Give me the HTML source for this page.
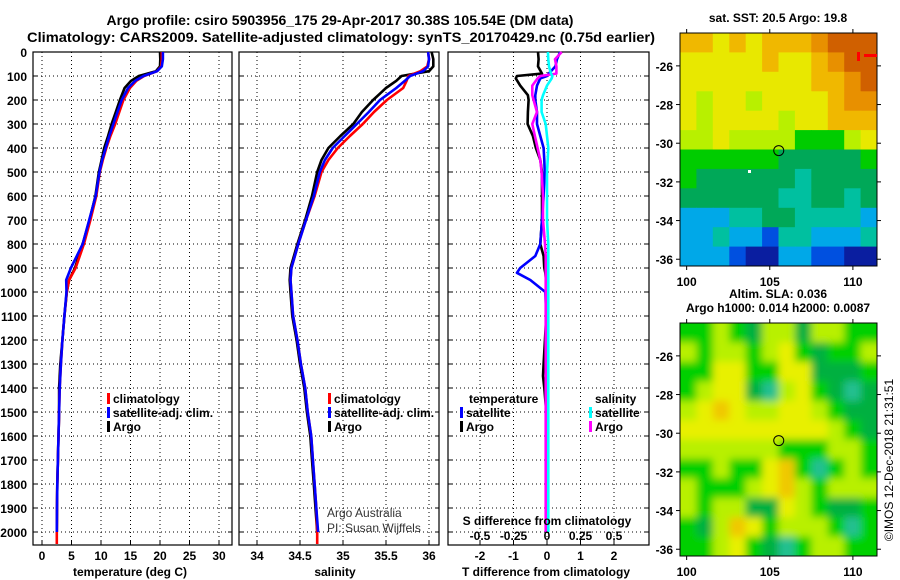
<!DOCTYPE html>
<html><head><meta charset="utf-8"><style>
html,body{margin:0;padding:0;background:#fff;}
svg{display:block;font-family:"Liberation Sans",Arial,sans-serif;}
.b{font-weight:bold;font-size:12px;fill:#000;}
.t{font-weight:bold;font-size:14px;fill:#000;}
.grid{stroke:#000;stroke-width:1;stroke-dasharray:1 3;}
</style></head><body>
<svg id="fig" width="900" height="580" viewBox="0 0 900 580">
<text class="t" x="340" y="25" text-anchor="middle">Argo profile: csiro 5903956_175 29-Apr-2017 30.38S 105.54E (DM data)</text>
<text class="t" x="341" y="42" text-anchor="middle" textLength="628" lengthAdjust="spacingAndGlyphs">Climatology: CARS2009. Satellite-adjusted climatology: synTS_20170429.nc (0.75d earlier)</text>
<g id="plots"></g>
<g id="maps"></g>
</svg>
<script>
const NS="http://www.w3.org/2000/svg";
// ---------- profile data ----------
const depths=[0,30,60,80,100,120,150,200,250,300,350,400,450,500,600,700,800,900,950,1000,1100,1200,1300,1400,1500,1600,1700,1800,1900,2000];
const tempClim=[20.3,20.3,20.2,19.5,17.3,16,14.9,13.8,13.1,12.4,11.6,10.9,10.3,9.8,9.2,8.2,7.1,5.7,4.6,4.2,3.8,3.45,3.2,3.0,2.9,2.8,2.7,2.6,2.55,2.5];
const tempSat=[20.5,20.5,20.3,19.5,17.2,15.8,14.6,13.5,12.8,12.1,11.4,10.8,10.2,9.75,9.1,8.0,6.9,4.9,4.1,4.15,3.8,3.45,3.2,3.0,2.9,2.8,2.7,2.6,2.55,2.5];
const tempArgo=[20.0,20.05,20.0,19.3,16.4,15.1,14.0,13.2,12.5,11.8,11.2,10.55,10.1,9.65,9.05,8.05,6.9,5.6,4.6,4.2,3.8,3.45,3.1,2.9,2.9,2.8,2.7,2.6,2.55,2.5];
const salClim=[35.99,36.0,35.98,35.9,35.76,35.74,35.7,35.51,35.36,35.23,35.08,34.94,34.83,34.75,34.67,34.57,34.48,34.4,34.39,34.4,34.42,34.47,34.51,34.56,34.59,34.63,34.65,34.67,34.69,34.7];
const salSat=[35.99,36.0,35.99,35.93,35.78,35.72,35.62,35.43,35.3,35.16,35.02,34.88,34.79,34.73,34.66,34.57,34.48,34.4,34.39,34.4,34.42,34.47,34.51,34.56,34.59,34.63,34.65,34.67,34.69,34.71];
const salArgo=[36.03,36.05,36.05,36.0,35.68,35.62,35.5,35.35,35.22,35.12,34.97,34.83,34.75,34.7,34.64,34.56,34.47,34.39,34.38,34.39,34.41,34.46,34.5,34.55,34.58,34.62,34.64,34.66,34.68,34.7];
const climBottomDepth=2050;
const diffDepths=[0,30,60,90,100,110,140,180,200,250,300,350,400,450,500,600,700,800,850,900,920,950,1000,1100,1300,1350,1400,1500,1700,2000];
const dTArgo=[-0.27,-0.25,-0.27,-0.15,-0.9,-0.93,-0.8,-0.57,-0.55,-0.57,-0.58,-0.42,-0.33,-0.2,-0.15,-0.15,-0.15,-0.2,-0.1,-0.08,-0.05,-0.03,-0.02,-0.02,-0.1,-0.12,-0.08,-0.02,-0.01,-0.01];
const dTSat=[0.39,0.3,0.25,0.05,0,-0.2,-0.3,-0.35,-0.35,-0.3,-0.3,-0.2,-0.1,-0.08,-0.07,-0.1,-0.15,-0.2,-0.35,-0.8,-0.9,-0.5,-0.05,-0.02,-0.02,-0.02,-0.02,-0.02,-0.02,-0.02];
const dSArgo=[0.11,0.06,0.07,0.07,-0.05,-0.07,-0.11,-0.11,-0.1,-0.075,-0.11,-0.09,-0.07,-0.05,-0.04,-0.03,-0.03,-0.015,-0.01,-0.01,-0.01,-0.01,-0.01,-0.01,-0.01,-0.01,-0.01,-0.01,-0.01,-0.01];
const dSSat=[0.007,0.01,0.015,0.03,0.04,0.035,0.0,-0.03,-0.04,-0.04,-0.01,0,0.01,0.005,0,0,0,0.01,0.01,0.01,0.01,0.01,0.01,0.01,0.01,0.01,0.01,0.01,0.01,0.01];
const depthTicks=[0,100,200,300,400,500,600,700,800,900,1000,1100,1200,1300,1400,1500,1600,1700,1800,1900,2000];
const tempTicks=[0,5,10,15,20,25,30];
const salTicks=[34,34.5,35,35.5,36];
const tdTicks=[-2,-1,0,1,2];
const sdTicks=[-0.5,-0.25,0,0.25,0.5];
// ---------- map data ----------
const sstGrid=[
[8,8,7,8,7,8,8,8,9,10,10,10],
[7,7,7,7,7,8,7,7,8,9,10,10],
[7,7,7,7,7,7,7,7,8,8,9,10],
[7,6,7,7,6,7,7,7,7,8,9,9],
[7,6,7,7,7,7,6,7,7,8,8,8],
[6,6,7,6,6,6,6,5,5,5,6,7],
[5,5,5,5,5,5,4,4,4,4,4,5],
[5,4,4,4,4,4,4,3,4,4,4,4],
[4,4,4,4,4,4,3,3,4,4,3,4],
[2,2,2,3,3,4,4,3,3,3,3,2],
[2,2,3,2,2,1,3,3,2,2,2,3],
[2,2,2,1,0,0,2,2,1,1,0,0]];
const slaGrid=[
[2,2,3,2,1,3,3,1,3,3,2,2],
[3,2,3,3,2,3,4,2,1,2,2,3],
[2,2,4,4,2,2,4,4,1,1,1,2],
[2,3,4,4,1,0,3,4,2,1,0,1],
[3,4,5,4,3,3,4,4,3,2,1,1],
[4,4,4,4,4,4,4,4,4,3,2,1],
[3,3,3,3,3,3,2,2,2,3,3,2],
[2,2,3,2,2,4,5,2,0,2,3,2],
[3,2,2,2,3,4,5,3,2,3,3,3],
[3,2,3,3,1,1,4,3,2,1,1,2],
[2,1,3,5,4,2,3,3,3,2,0,2],
[2,2,3,4,2,1,0,2,3,3,2,2]];
const sstColors=["#0a1ea0","#0050e0","#00a8e8","#00c0a0","#00a858","#00cc00","#b8f000","#e8e800","#f0b800","#e89000","#d06000"];
const slaColors=["#20c090","#00b040","#00d000","#b8f000","#e8f000","#f0c800"];
const latTicks=[-26,-28,-30,-32,-34,-36];
const lonTicks=[100,105,110];
const argoLon=105.54, argoLat=-30.38;

const plots=document.getElementById('plots');
const maps=document.getElementById('maps');
function mk(tag,attrs,parent){const e=document.createElementNS(NS,tag);for(const k in attrs)e.setAttribute(k,attrs[k]);(parent||plots).appendChild(e);return e;}
function txt(s,x,y,cls,anchor,parent){const e=mk('text',{x:x,y:y,class:cls,'text-anchor':anchor||'start'},parent);e.textContent=s;return e;}

const Y0=52, Y1=532, YB=545;
const yD=d=>Y0+(d/2000)*(Y1-Y0);

function panel(name,x0,x1,xScale,ticks,label,titleX){
  const g=mk('g',{});
  
  
  depthTicks.forEach(d=>{mk('line',{x1:x0,x2:x1,y1:yD(d),y2:yD(d),class:'grid'},g);
    mk('line',{x1:x0,x2:x0+4,y1:yD(d),y2:yD(d),stroke:'#000'},g);mk('line',{x1:x1-4,x2:x1,y1:yD(d),y2:yD(d),stroke:'#000'},g);});
  ticks.forEach(v=>{const x=xScale(v);mk('line',{x1:x,x2:x,y1:Y0,y2:YB,class:'grid'},g);
    mk('line',{x1:x,x2:x,y1:YB-4,y2:YB,stroke:'#000'},g);
    const t=txt(String(v),x,560,'b','middle',g);});
  mk('rect',{x:x0,y:Y0,width:x1-x0,height:YB-Y0,fill:'none',stroke:'#000','stroke-width':1.2},g);
  const at=txt(label,titleX,576,'b','middle',g);
  
  
  return g;
}
function line(g,xs,ds,xScale,color,name,extra){
  const pts=xs.map((v,i)=>xScale(v).toFixed(1)+','+yD(ds[i]).toFixed(1));
  if(extra!==undefined)pts.push(xScale(xs[xs.length-1]).toFixed(1)+','+yD(extra).toFixed(1));
  const p=mk('polyline',{points:pts.join(' '),fill:'none',stroke:color,'stroke-width':2.6,'stroke-linejoin':'round'},g);
  
  
}
function legend(g,x,y,color,label){
  mk('rect',{x:x,y:y-6,width:3,height:11,fill:color},g);
  const t=txt(label,x+6,y+4,'b','start',g);
  
  
}

depthTicks.forEach(d=>{const t=txt(String(d),27,yD(d)+5,'b','end');});

const xT=v=>42+v*5.9;
const g1=panel('temperature-panel',33,232,xT,tempTicks,'temperature (deg C)',130);
line(g1,tempArgo,depths,xT,'#000','argo-temperature-line');
line(g1,tempClim,depths,xT,'#f00','climatology-temperature-line',climBottomDepth);
line(g1,tempSat,depths,xT,'#00f','satellite-temperature-line');
legend(g1,107,399,'#f00','climatology');
legend(g1,107,413,'#00f','satellite-adj. clim.');
legend(g1,107,427,'#000','Argo');

const xS=v=>257+(v-34)*86;
const g2=panel('salinity-panel',239,439,xS,salTicks,'salinity',335);
line(g2,salArgo,depths,xS,'#000','argo-salinity-line');
line(g2,salClim,depths,xS,'#f00','climatology-salinity-line',climBottomDepth);
line(g2,salSat,depths,xS,'#00f','satellite-salinity-line');
legend(g2,328,399,'#f00','climatology');
legend(g2,328,413,'#00f','satellite-adj. clim.');
legend(g2,328,427,'#000','Argo');
const c1=txt('Argo Australia',327,517,'','start',g2);c1.setAttribute('style','font-size:12px;fill:#333');

const c2=txt('PI: Susan Wijffels',327,532,'','start',g2);c2.setAttribute('style','font-size:12px;fill:#333');


const xTD=v=>547+v*33.5;
const xSD=v=>547+v*134;
const g3=panel('difference-panel',448,649,xTD,tdTicks,'T difference from climatology',546);
line(g3,dTArgo,diffDepths,xTD,'#000','argo-t-diff-line');
line(g3,dTSat,diffDepths,xTD,'#00f','satellite-t-diff-line');
line(g3,dSArgo,diffDepths,xSD,'#f0f','argo-s-diff-line');
line(g3,dSSat,diffDepths,xSD,'#0ff','satellite-s-diff-line');
const lt=txt('temperature',469,403,'b','start',g3);
legend(g3,460,413,'#00f','satellite');
legend(g3,460,427,'#000','Argo');
const ls=txt('salinity',595,403,'b','start',g3);
legend(g3,589,413,'#0ff','satellite');
legend(g3,589,427,'#f0f','Argo');
const st=txt('S difference from climatology',547,525,'b','middle',g3);

sdTicks.forEach(v=>{const t=txt(String(v),xSD(v),540,'b','middle',g3);});

const MX0=680,MX1=877,LON0=99.6,LON1=111.45,LAT0=-24.3,LAT1=-36.35;
const mx=l=>MX0+(l-LON0)/(LON1-LON0)*(MX1-MX0);
function drawMap(name,top,grid,colors,blur,title){
  const bot=top+233;
  const my=l=>top+(l-LAT0)/(LAT1-LAT0)*(bot-top);
  const g=mk('g',{},maps);
  
  
  const cid='clip'+top;
  const cp=mk('clipPath',{id:cid},g);mk('rect',{x:MX0,y:top,width:MX1-MX0,height:bot-top},cp);
  const inner=mk('g',{'clip-path':'url(#'+cid+')'},g);
  const cells=mk('g',blur?{filter:'url(#bl)'}:{},inner);
  const rows=grid.length,cols=grid[0].length;
  const cw=(MX1-MX0)/cols,ch=(bot-top)/rows;
  grid.forEach((row,r)=>row.forEach((v,c)=>{
    const pad=blur?(c==0||r==0||c==cols-1||r==rows-1?8:0):0;
    const xx=MX0+c*cw-(c==0?pad:0),yy=top+r*ch-(r==0?pad:0);
    const cell=mk('rect',{x:xx.toFixed(1),y:yy.toFixed(1),width:(cw+0.6+(c==0||c==cols-1?pad:0)).toFixed(1),height:(ch+0.6+(r==0||r==rows-1?pad:0)).toFixed(1),fill:colors[v]},cells);
    
    
  }));
  mk('rect',{x:MX0,y:top,width:MX1-MX0,height:bot-top,fill:'none',stroke:'#000','stroke-width':1},g);
  latTicks.forEach(l=>{const y=my(l);mk('line',{x1:MX1,x2:MX1+4,y1:y,y2:y,stroke:'#000'},g);mk('line',{x1:MX0-4,x2:MX0,y1:y,y2:y,stroke:'#000'},g);
    const t=txt(String(l),673,y+5,'b','end',g);});
  lonTicks.forEach(l=>{const x=mx(l);mk('line',{x1:x,x2:x,y1:bot,y2:bot+4,stroke:'#000'},g);mk('line',{x1:x,x2:x,y1:top-4,y2:top,stroke:'#000'},g);
    const t=txt(String(l),x,bot+20,'b','middle',g);});
  const ci=mk('circle',{cx:mx(argoLon),cy:my(argoLat),r:5,fill:'none',stroke:'#000','stroke-width':1},g);
  
  
  title.forEach((s,i)=>{const t=txt(s,778,top-(title.length-i)*14+3,'b','middle',g);});
  return {g,my};
}
const defs=mk('defs',{},maps);
const f=mk('filter',{id:'bl',x:'-10%',y:'-10%',width:'120%',height:'120%'},defs);
mk('feGaussianBlur',{stdDeviation:4},f);
const m1=drawMap('sst-map',33,sstGrid,sstColors,false,['sat. SST: 20.5 Argo: 19.8']);
mk('rect',{x:857,y:52,width:3,height:9,fill:'#f00'},m1.g);
mk('rect',{x:864,y:54,width:13,height:3,fill:'#f00'},m1.g);
mk('rect',{x:748,y:170,width:3,height:3,fill:'#fff'},m1.g);
drawMap('sla-map',323,slaGrid,slaColors,true,['Altim. SLA: 0.036','Argo h1000: 0.014 h2000: 0.0087']);
const ts=txt('©IMOS 12-Dec-2018 21:31:51',0,0,'','middle',maps);
ts.setAttribute('style','font-size:12px;fill:#000');
ts.setAttribute('transform','translate(893,460) rotate(-90)');


</script>
</body></html>
